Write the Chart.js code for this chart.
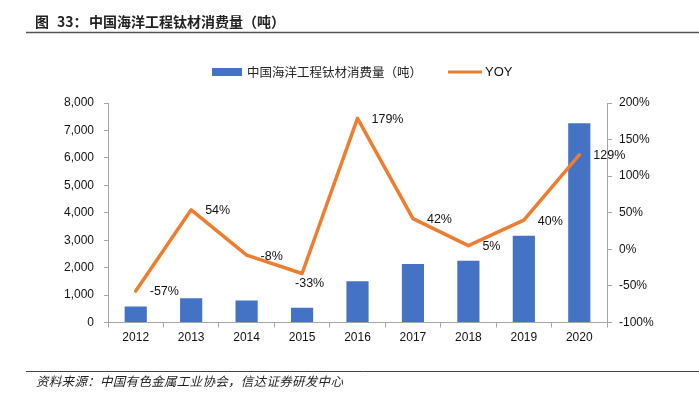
<!DOCTYPE html>
<html>
<head>
<meta charset="utf-8">
<script src="https://cdn.jsdelivr.net/npm/chart.js@4/dist/chart.umd.min.js"></script>
<style>
  html, body { margin: 0; padding: 0; background: #fff; }
  #c { display: block; }
</style>
</head>
<body>
<canvas id="c" width="699" height="396"></canvas>
<script>
// ---- data ----
const years = ['2012','2013','2014','2015','2016','2017','2018','2019','2020'];
const consumption = [580, 880, 800, 535, 1500, 2130, 2250, 3160, 7260];
const yoy = [-57, 54, -8, -33, 179, 42, 5, 40, 129];
const yoyLabels = ['-57%','54%','-8%','-33%','179%','42%','5%','40%','129%'];
const titlePrefix = '图';
const titleNumber = '33：';
const titleMain = '中国海洋工程钛材消费量（吨）';
const sourceText = '资料来源：中国有色金属工业协会，信达证券研发中心';
const barLegend = '中国海洋工程钛材消费量（吨）';
const lineLegend = 'YOY';

const BLUE = '#4472C4';
const ORANGE = '#ED7D31';
const AXIS = '#a6a6a6';
const CJK = '"Noto Sans CJK SC", "Noto Sans", sans-serif';
const LAT = '"Liberation Sans", Arial, sans-serif';

function drawMono(ctx, text, x, y, advance) {
  [...text].forEach((ch, i) => ctx.fillText(ch, x + i * advance, y));
}

const decor = {
  id: 'decor',
  afterDraw(chart) {
    const ctx = chart.ctx;
    ctx.save();
    ctx.textAlign = 'left';
    ctx.textBaseline = 'middle';
    // title
    ctx.fillStyle = '#222';
    ctx.font = 'bold 14px ' + CJK;
    ctx.fillText(titlePrefix, 35, 22);
    ctx.fillText(titleNumber, 57, 22);
    drawMono(ctx, titleMain, 89, 22, 14);
    ctx.strokeStyle = '#555';
    ctx.lineWidth = 1.5;
    ctx.beginPath(); ctx.moveTo(26, 32.5); ctx.lineTo(699, 32.5); ctx.stroke();
    // source
    ctx.strokeStyle = '#444';
    ctx.lineWidth = 1;
    ctx.beginPath(); ctx.moveTo(26, 371.5); ctx.lineTo(699, 371.5); ctx.stroke();
    ctx.font = 'italic 12.5px ' + CJK;
    ctx.fillStyle = '#222';
    drawMono(ctx, sourceText, 36, 381, 12.8);
    // legend
    ctx.fillStyle = BLUE;
    ctx.fillRect(212, 68, 30, 8);
    ctx.fillStyle = '#222';
    ctx.font = '12.5px ' + CJK;
    drawMono(ctx, barLegend, 247, 72, 12.5);
    ctx.strokeStyle = ORANGE;
    ctx.lineWidth = 3;
    ctx.beginPath(); ctx.moveTo(448, 72); ctx.lineTo(482, 72); ctx.stroke();
    ctx.fillStyle = '#111';
    ctx.font = '13px ' + LAT;
    ctx.fillText(lineLegend, 485, 72);
    // data labels for YOY line
    const meta = chart.getDatasetMeta(1);
    ctx.font = '12.5px ' + LAT;
    ctx.fillStyle = '#111';
    meta.data.forEach((pt, i) => {
      let dx = 14, dy = 1;
      if (i === 3) { dx = -7; dy = 10; }
      ctx.fillText(yoyLabels[i], pt.x + dx, pt.y + dy);
    });
    ctx.restore();
  }
};

new Chart(document.getElementById('c'), {
  data: {
    labels: years,
    datasets: [
      {
        type: 'bar',
        label: barLegend,
        data: consumption,
        backgroundColor: BLUE,
        yAxisID: 'y',
        barPercentage: 0.4,
        categoryPercentage: 1.0,
        order: 2
      },
      {
        type: 'line',
        label: lineLegend,
        data: yoy,
        borderColor: ORANGE,
        borderWidth: 3.5,
        pointRadius: 0,
        tension: 0,
        yAxisID: 'y1',
        order: 1,
        borderJoinStyle: 'round',
        borderCapStyle: 'round'
      }
    ]
  },
  options: {
    responsive: false,
    animation: false,
    layout: { padding: { top: 103, left: 0, right: 0, bottom: 0 } },
    plugins: { legend: { display: false }, tooltip: { enabled: false }, title: { display: false } },
    scales: {
      x: {
        type: 'category',
        offset: true,
        grid: { offset: true, drawOnChartArea: false, drawTicks: true, tickLength: 5, color: AXIS },
        border: { color: AXIS, width: 1 },
        ticks: { color: '#111', font: { family: LAT, size: 12 }, padding: 3, maxRotation: 0 },
        afterFit(s) { s.height = 73.5; }
      },
      y: {
        position: 'left',
        min: 0, max: 8000,
        ticks: { stepSize: 1000, color: '#111', font: { family: LAT, size: 12 }, padding: 10,
          callback: v => v.toLocaleString('en-US') },
        grid: { drawOnChartArea: false, drawTicks: true, tickLength: 4, color: AXIS },
        border: { color: AXIS, width: 1 },
        afterFit(s) { s.width = 108; }
      },
      y1: {
        position: 'right',
        min: -100, max: 200,
        ticks: { stepSize: 50, color: '#111', font: { family: LAT, size: 12 }, padding: 7,
          callback: v => v + '%' },
        grid: { drawOnChartArea: false, drawTicks: true, tickLength: 5, color: AXIS },
        border: { color: AXIS, width: 1 },
        afterFit(s) { s.width = 92; }
      }
    }
  },
  plugins: [decor]
});
</script>
</body>
</html>
